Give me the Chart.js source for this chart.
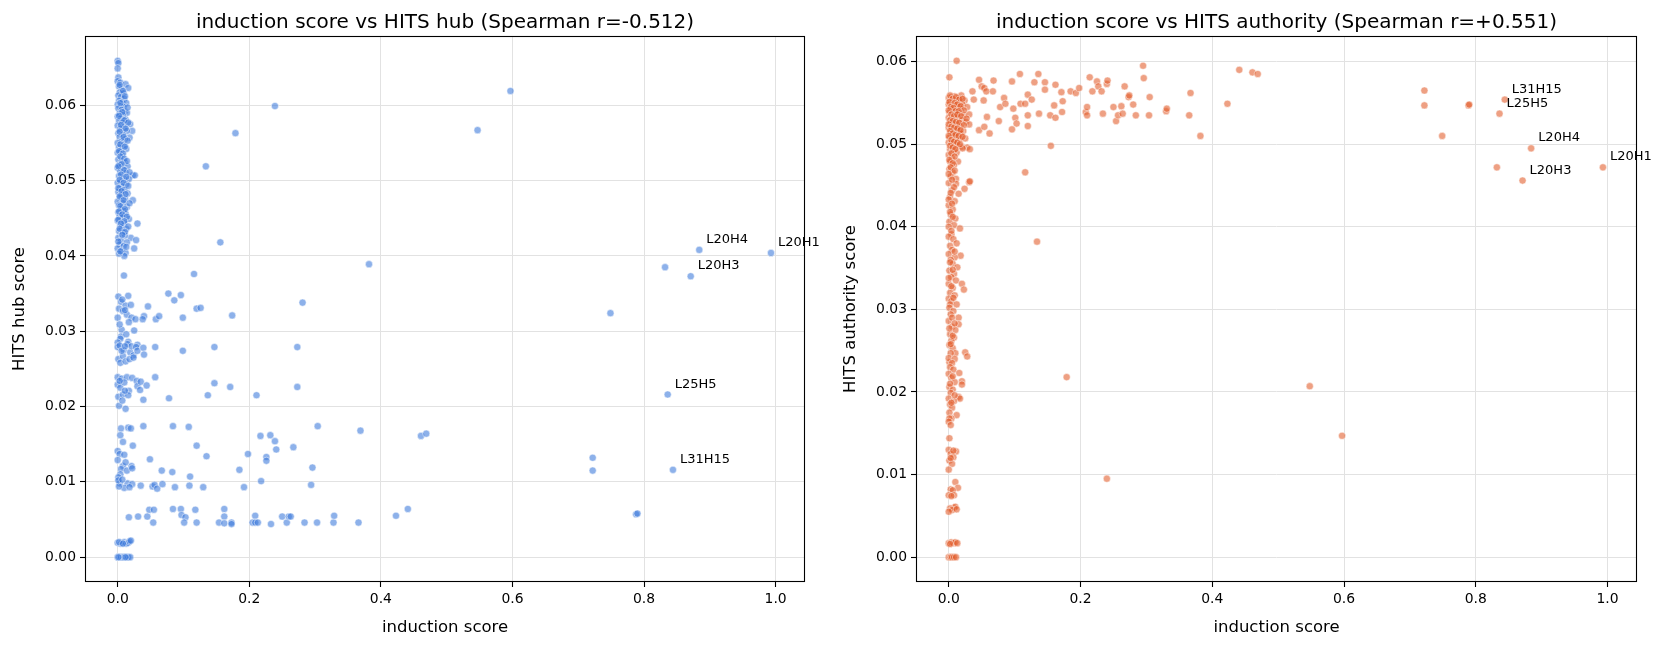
<!DOCTYPE html>
<html>
<head>
<meta charset="utf-8">
<script src="https://cdn.jsdelivr.net/npm/chart.js@4.4.1/dist/chart.umd.min.js"></script>
<style>
  html, body { margin: 0; padding: 0; background: #fff; }
  .panel { position: absolute; top: 0; height: 648px; }
  #left-wrap { left: 0; width: 831px; }
  #right-wrap { left: 831px; width: 832px; }
</style>
</head>
<body>
<div class="panel" id="left-wrap"><canvas id="hub-chart"></canvas></div>
<div class="panel" id="right-wrap"><canvas id="auth-chart"></canvas></div>
<script>
// labelled heads: induction score, hub score, authority score
const labelNames = ['L20H1', 'L20H4', 'L20H3', 'L25H5', 'L31H15'];
const labelInduction = [0.993, 0.884, 0.871, 0.836, 0.844];
const labelHub = [0.0404, 0.0408, 0.0373, 0.0216, 0.0116];
const labelAuth = [0.0472, 0.0495, 0.0456, 0.0537, 0.0554];

const xTicks = [0, 0.2, 0.4, 0.6, 0.8, 1.0];
const yTicks = [0, 0.01, 0.02, 0.03, 0.04, 0.05, 0.06];

// hub panel: heads with induction score near zero
const hubColumn = [
  [0.000,0.0659],[0.001,0.0656],[0.000,0.0649],[0.001,0.0637],[0.000,0.0632],[0.004,0.0630],[0.012,0.0628],[0.016,0.0623],
  [0.002,0.0625],[0.006,0.0621],[0.003,0.0617],[0.009,0.0616],[0.001,0.0613],[0.005,0.0611],[0.010,0.0609],[0.002,0.0606],
  [0.007,0.0604],[0.013,0.0603],[0.000,0.0601],[0.004,0.0599],[0.009,0.0598],[0.001,0.0596],[0.006,0.0594],[0.011,0.0592],
  [0.014,0.0590],[0.003,0.0589],[0.008,0.0587],[0.000,0.0585],[0.005,0.0583],[0.012,0.0581],
  [0.002,0.0579],[0.019,0.0575],[0.007,0.0577],[0.000,0.0573],[0.010,0.0571],[0.004,0.0569],[0.022,0.0566],[0.014,0.0566],
  [0.001,0.0563],[0.008,0.0561],[0.018,0.0557],[0.003,0.0558],[0.011,0.0555],[0.006,0.0552],[0.000,0.0550],[0.009,0.0547],
  [0.002,0.0544],[0.013,0.0542],[0.005,0.0540],[0.000,0.0537],[0.007,0.0533],
  [0.001,0.0528],[0.006,0.0526],[0.011,0.0524],[0.003,0.0521],[0.015,0.0519],[0.000,0.0517],[0.008,0.0515],[0.004,0.0512],
  [0.012,0.0510],[0.023,0.0507],[0.026,0.0507],[0.002,0.0506],[0.009,0.0503],[0.017,0.0502],[0.005,0.0499],[0.000,0.0497],
  [0.013,0.0495],[0.007,0.0492],[0.003,0.0490],[0.010,0.0488],[0.001,0.0485],[0.015,0.0483],[0.006,0.0481],[0.004,0.0478],
  [0.011,0.0476],[0.023,0.0474],[0.000,0.0472],[0.008,0.0470],[0.002,0.0467],[0.014,0.0465],[0.005,0.0463],[0.009,0.0460],
  [0.001,0.0458],[0.012,0.0456],[0.003,0.0453],[0.007,0.0451],[0.017,0.0449],[0.000,0.0447],[0.030,0.0443],[0.010,0.0444],
  [0.004,0.0441],[0.006,0.0438],[0.013,0.0436],[0.002,0.0433],[0.008,0.0431],[0.020,0.0424],[0.028,0.0421],[0.011,0.0427],
  [0.001,0.0424],[0.005,0.0420],[0.014,0.0418],[0.025,0.0410],[0.003,0.0415],[0.009,0.0413],[0.000,0.0410],[0.006,0.0407],
  [0.012,0.0404],[0.010,0.0400],[0.002,0.0403],[0.0095,0.0374],
  [0.003,0.0627],[0.008,0.0619],[0.011,0.0612],[0.004,0.0603],[0.015,0.0597],[0.007,0.0591],[0.002,0.0586],[0.010,0.0580],
  [0.016,0.0577],[0.005,0.0574],[0.012,0.0569],[0.003,0.0565],[0.009,0.0558],[0.015,0.0553],[0.004,0.0548],[0.011,0.0545],
  [0.002,0.0539],[0.008,0.0536],[0.004,0.0532],[0.010,0.0529],[0.014,0.0526],[0.006,0.0522],[0.001,0.0519],[0.010,0.0514],
  [0.018,0.0511],[0.005,0.0508],[0.013,0.0505],[0.003,0.0501],[0.009,0.0497],[0.016,0.0493],[0.001,0.0490],[0.006,0.0486],
  [0.012,0.0482],[0.003,0.0479],[0.009,0.0474],[0.018,0.0470],[0.004,0.0466],[0.011,0.0462],[0.002,0.0459],[0.007,0.0455],
  [0.014,0.0452],[0.001,0.0448],[0.010,0.0446],[0.005,0.0443],[0.016,0.0439],[0.003,0.0436],[0.011,0.0432],[0.007,0.0428],
  [0.001,0.0419],[0.013,0.0412],[0.004,0.0406],
  [0.001,0.0346],[0.016,0.0347],[0.005,0.0339],[0.012,0.0334],[0.020,0.0335],[0.002,0.0330],[0.008,0.0327],[0.014,0.0322],
  [0.000,0.0318],[0.021,0.0318],[0.027,0.0316],[0.017,0.0312],[0.025,0.0301],[0.006,0.0302],[0.005,0.0293],[0.004,0.0290],
  [0.007,0.0342],[0.011,0.0328],[0.003,0.0309],[0.013,0.0296],
  [0.000,0.0285],[0.000,0.0279],[0.003,0.0281],[0.016,0.0286],[0.009,0.0275],[0.019,0.0272],[0.024,0.0268],[0.015,0.0283],
  [0.021,0.0280],[0.030,0.0282],[0.028,0.0279],[0.030,0.0274],[0.001,0.0263],[0.008,0.0267],[0.004,0.0258],[0.012,0.0260],
  [0.006,0.0274],[0.011,0.0280],[0.018,0.0263],
  [0.000,0.0239],[0.006,0.0237],[0.014,0.0239],[0.022,0.0238],[0.029,0.0234],[0.030,0.0227],[0.034,0.0222],[0.000,0.0229],
  [0.004,0.0225],[0.010,0.0232],[0.017,0.0221],[0.001,0.0213],[0.008,0.0216],[0.016,0.0215],[0.002,0.0201],[0.012,0.0197],
  [0.003,0.0234],[0.011,0.0221],[0.007,0.0208],
  [0.005,0.0171],[0.016,0.0172],[0.020,0.0171],[0.008,0.0153],[0.023,0.0148],[0.000,0.0141],[0.003,0.0137],[0.010,0.0136],
  [0.000,0.0129],[0.008,0.0121],[0.005,0.0117],[0.004,0.0110],[0.001,0.0106],[0.014,0.0115],[0.021,0.0121],[0.022,0.0118],
  [0.003,0.0098],[0.015,0.0098],[0.022,0.0097],[0.010,0.0092],[0.002,0.0094],[0.001,0.0102],
  [0.004,0.0162],[0.012,0.0126],[0.007,0.0103],[0.018,0.0093],
  [0.000,0.0019],[0.004,0.0018],[0.006,0.0019],[0.010,0.0020],[0.013,0.0018],[0.016,0.0019],[0.018,0.0021],[0.020,0.0022],
  [0.002,0.0020],[0.008,0.0018],
  [0.000,0.0000],[0.003,0.0000],[0.005,0.0000],[0.008,0.0000],[0.010,0.0000],[0.014,0.0000],[0.016,0.0000],[0.019,0.0000],
  [0.012,0.0000],[0.001,0.0000]
];

// hub panel: the rest of the heads
const hubSpread = [
  [0.239,0.0599],[0.179,0.0563],[0.134,0.0519],[0.156,0.0418],[0.382,0.0389],[0.116,0.0376],[0.597,0.0619],[0.547,0.0567],
  [0.832,0.0385],[0.749,0.0324],[0.722,0.0132],[0.722,0.0115],
  [0.077,0.0350],[0.086,0.0341],[0.096,0.0348],[0.281,0.0338],[0.046,0.0333],[0.120,0.0330],[0.126,0.0331],[0.174,0.0321],
  [0.040,0.0320],[0.038,0.0316],[0.058,0.0316],[0.063,0.0320],[0.099,0.0318],
  [0.057,0.0279],[0.099,0.0274],[0.147,0.0279],[0.273,0.0279],[0.039,0.0278],[0.040,0.0269],[0.024,0.0265],
  [0.057,0.0239],[0.078,0.0211],[0.039,0.0209],[0.137,0.0215],[0.147,0.0231],[0.171,0.0226],[0.211,0.0215],[0.273,0.0226],
  [0.035,0.0233],[0.044,0.0228],
  [0.039,0.0174],[0.084,0.0174],[0.108,0.0173],[0.304,0.0174],[0.369,0.0168],[0.217,0.0161],[0.232,0.0162],[0.239,0.0154],
  [0.241,0.0143],[0.267,0.0146],[0.198,0.0137],[0.226,0.0133],[0.226,0.0128],[0.120,0.0148],[0.135,0.0134],[0.461,0.0161],
  [0.469,0.0164],
  [0.049,0.0130],[0.067,0.0115],[0.083,0.0113],[0.110,0.0107],[0.185,0.0116],[0.218,0.0101],[0.296,0.0119],[0.294,0.0096],
  [0.035,0.0095],[0.053,0.0094],[0.056,0.0096],[0.060,0.0091],[0.068,0.0097],[0.087,0.0093],[0.109,0.0095],[0.130,0.0093],
  [0.192,0.0093],
  [0.017,0.0053],[0.031,0.0054],[0.045,0.0054],[0.048,0.0063],[0.055,0.0063],[0.054,0.0046],[0.084,0.0064],[0.096,0.0064],
  [0.097,0.0056],[0.103,0.0053],[0.101,0.0046],[0.118,0.0063],[0.120,0.0046],[0.154,0.0046],[0.162,0.0064],[0.162,0.0054],
  [0.162,0.0045],[0.173,0.0046],[0.173,0.0044],[0.205,0.0046],[0.209,0.0055],[0.209,0.0046],[0.213,0.0046],[0.233,0.0044],
  [0.250,0.0054],[0.257,0.0046],[0.260,0.0054],[0.263,0.0054],[0.284,0.0046],[0.303,0.0046],[0.328,0.0046],[0.329,0.0055],
  [0.366,0.0046],[0.423,0.0055],[0.441,0.0064],[0.788,0.0057],[0.790,0.0058]
];

// authority panel: heads with induction score near zero
const authColumn = [
  [0.012,0.0601],[0.001,0.0581],
  [0.000,0.0556],[0.004,0.0557],[0.009,0.0558],[0.014,0.0556],[0.019,0.0559],[0.002,0.0553],[0.007,0.0552],[0.012,0.0554],
  [0.017,0.0551],[0.024,0.0553],[0.000,0.0548],[0.005,0.0547],[0.010,0.0549],[0.015,0.0546],[0.021,0.0548],[0.028,0.0545],
  [0.003,0.0543],[0.008,0.0542],[0.013,0.0541],[0.019,0.0543],[0.001,0.0538],[0.006,0.0537],[0.011,0.0536],[0.016,0.0538],
  [0.023,0.0535],[0.031,0.0536],[0.000,0.0532],[0.004,0.0531],[0.009,0.0530],[0.014,0.0533],[0.020,0.0529],[0.026,0.0527],
  [0.002,0.0526],[0.007,0.0525],[0.012,0.0524],[0.018,0.0522],[0.031,0.0524],[0.000,0.0520],[0.005,0.0519],[0.010,0.0518],
  [0.015,0.0517],[0.022,0.0516],[0.003,0.0514],[0.008,0.0512],[0.013,0.0511],[0.019,0.0513],[0.001,0.0508],[0.006,0.0507],
  [0.011,0.0505],[0.017,0.0506],[0.025,0.0507],[0.000,0.0502],[0.004,0.0501],[0.009,0.0500],[0.014,0.0498],[0.020,0.0497],
  [0.028,0.0496],[0.002,0.0494],[0.007,0.0492],[0.012,0.0490],[0.032,0.0494],[0.021,0.0495],
  [0.002,0.0559],[0.006,0.0555],[0.011,0.0557],[0.016,0.0554],[0.021,0.0555],[0.001,0.0551],[0.009,0.0550],[0.013,0.0548],
  [0.018,0.0546],[0.003,0.0545],[0.007,0.0544],[0.023,0.0541],[0.010,0.0540],[0.015,0.0540],[0.000,0.0541],[0.004,0.0536],
  [0.008,0.0534],[0.013,0.0536],[0.019,0.0534],[0.027,0.0531],[0.002,0.0529],[0.006,0.0528],[0.011,0.0527],[0.016,0.0526],
  [0.023,0.0523],[0.000,0.0524],[0.004,0.0521],[0.008,0.0520],[0.013,0.0519],[0.018,0.0517],[0.002,0.0516],[0.006,0.0513],
  [0.010,0.0511],[0.015,0.0510],[0.021,0.0509],[0.000,0.0510],[0.004,0.0505],[0.008,0.0503],[0.013,0.0502],[0.017,0.0500],
  [0.002,0.0498],[0.006,0.0496],[0.010,0.0494],
  [0.000,0.0487],[0.005,0.0483],[0.002,0.0479],[0.014,0.0479],[0.008,0.0475],[0.001,0.0470],[0.006,0.0466],[0.003,0.0461],
  [0.011,0.0458],[0.031,0.0454],[0.000,0.0453],[0.011,0.0452],[0.024,0.0446],[0.015,0.0440],[0.005,0.0444],[0.002,0.0436],
  [0.009,0.0431],[0.000,0.0426],[0.006,0.0421],[0.003,0.0415],[0.010,0.0410],[0.001,0.0406],[0.008,0.0402],[0.017,0.0398],
  [0.004,0.0489],[0.009,0.0485],[0.001,0.0481],[0.006,0.0477],[0.003,0.0472],[0.009,0.0468],[0.000,0.0464],[0.005,0.0457],
  [0.008,0.0448],[0.003,0.0441],[0.000,0.0433],[0.005,0.0428],[0.002,0.0418],[0.006,0.0412],[0.000,0.0400],[0.004,0.0391],
  [0.004,0.0395],[0.000,0.0388],[0.007,0.0385],[0.012,0.0380],[0.002,0.0377],[0.005,0.0372],[0.000,0.0367],[0.018,0.0365],
  [0.009,0.0363],[0.003,0.0360],[0.006,0.0355],[0.013,0.0351],[0.001,0.0347],[0.008,0.0343],[0.004,0.0339],[0.011,0.0335],
  [0.020,0.0331],[0.000,0.0331],[0.023,0.0324],[0.006,0.0326],[0.002,0.0320],[0.009,0.0317],[0.000,0.0313],[0.004,0.0310],
  [0.009,0.0370],[0.002,0.0357],[0.006,0.0348],[0.000,0.0338],[0.004,0.0328],[0.007,0.0314],[0.002,0.0306],
  [0.012,0.0306],[0.001,0.0302],[0.007,0.0298],[0.015,0.0290],[0.003,0.0294],[0.015,0.0282],[0.000,0.0286],[0.005,0.0279],
  [0.010,0.0275],[0.002,0.0270],[0.008,0.0266],[0.004,0.0262],[0.001,0.0257],[0.006,0.0253],[0.025,0.0248],[0.028,0.0243],
  [0.005,0.0290],[0.009,0.0283],[0.001,0.0277],[0.006,0.0268],[0.003,0.0258],[0.010,0.0247],[0.001,0.0236],
  [0.003,0.0247],[0.000,0.0241],[0.009,0.0240],[0.005,0.0235],[0.002,0.0230],[0.007,0.0227],[0.016,0.0223],[0.000,0.0222],
  [0.004,0.0217],[0.020,0.0213],[0.020,0.0209],[0.009,0.0212],[0.001,0.0206],[0.006,0.0203],[0.003,0.0199],[0.015,0.0194],
  [0.017,0.0192],[0.000,0.0192],[0.008,0.0189],[0.002,0.0185],[0.005,0.0181],[0.012,0.0172],[0.001,0.0175],[0.004,0.0168],
  [0.006,0.0219],[0.002,0.0210],[0.009,0.0196],[0.004,0.0187],[0.001,0.0168],
  [0.000,0.0164],[0.003,0.0160],[0.001,0.0144],[0.011,0.0128],[0.000,0.0130],[0.003,0.0125],[0.007,0.0121],[0.001,0.0117],
  [0.005,0.0113],[0.000,0.0106],[0.010,0.0091],[0.014,0.0084],[0.003,0.0082],[0.006,0.0081],[0.000,0.0075],[0.008,0.0075],
  [0.007,0.0129],[0.003,0.0120],[0.008,0.0060],[0.004,0.0074],
  [0.010,0.0061],[0.002,0.0059],[0.005,0.0057],[0.012,0.0058],[0.000,0.0055],
  [0.000,0.0017],[0.004,0.0018],[0.007,0.0017],[0.010,0.0018],[0.013,0.0017],[0.002,0.0016],
  [0.000,0.0000],[0.003,0.0000],[0.005,0.0000],[0.008,0.0000],[0.011,0.0000]
];

// authority panel: the rest of the heads
const authSpread = [
  [0.046,0.0578],[0.050,0.0570],[0.036,0.0564],[0.038,0.0554],[0.054,0.0568],[0.057,0.0564],[0.068,0.0577],[0.067,0.0564],
  [0.053,0.0553],[0.058,0.0533],[0.046,0.0517],[0.054,0.0521],[0.062,0.0513],[0.076,0.0528],[0.078,0.0545],[0.084,0.0556],
  [0.086,0.0549],[0.096,0.0576],[0.096,0.0518],[0.098,0.0543],[0.101,0.0532],[0.103,0.0525],[0.108,0.0585],[0.109,0.0549],
  [0.116,0.0549],[0.120,0.0560],[0.120,0.0535],[0.120,0.0522],[0.126,0.0554],[0.116,0.0466],[0.130,0.0575],[0.136,0.0585],
  [0.146,0.0575],[0.146,0.0566],[0.137,0.0537],[0.134,0.0382],[0.155,0.0498],[0.154,0.0535],[0.160,0.0547],[0.162,0.0532],
  [0.162,0.0572],[0.171,0.0563],[0.173,0.0552],[0.172,0.0539],[0.185,0.0564],[0.193,0.0562],[0.198,0.0568],[0.208,0.0539],
  [0.210,0.0545],[0.210,0.0535],[0.214,0.0581],[0.218,0.0564],[0.225,0.0576],[0.227,0.0570],[0.232,0.0564],[0.234,0.0537],
  [0.240,0.0573],[0.241,0.0577],[0.250,0.0545],[0.254,0.0528],[0.257,0.0535],[0.262,0.0546],[0.264,0.0537],[0.267,0.0570],
  [0.273,0.0557],[0.274,0.0559],[0.280,0.0548],[0.284,0.0535],[0.295,0.0595],[0.296,0.0580],[0.305,0.0557],[0.304,0.0535],
  [0.330,0.0540],[0.331,0.0543],[0.365,0.0535],[0.367,0.0562],[0.382,0.0510],[0.423,0.0549],[0.441,0.0590],[0.461,0.0587],
  [0.469,0.0585],[0.722,0.0565],[0.722,0.0547],[0.789,0.0547],[0.790,0.0548],[0.749,0.0510],[0.832,0.0472],
  [0.548,0.0207],[0.597,0.0147],[0.179,0.0218],[0.240,0.0095],[0.032,0.0455]
];

const font = '"DejaVu Sans", "Liberation Sans", sans-serif';

function toPoints(list) {
  return list.map(p => ({x: p[0], y: p[1]}));
}

function labelled(ys) {
  return labelInduction.map((x, i) => ({x: x, y: ys[i], name: labelNames[i]}));
}

const decor = {
  id: 'decor',
  afterDraw(chart, args, opts) {
    const {ctx, chartArea: a} = chart;
    const sx = chart.scales.x, sy = chart.scales.y;
    ctx.save();
    // frame
    ctx.strokeStyle = '#000';
    ctx.lineWidth = 1.1;
    ctx.strokeRect(a.left + 0.5, a.top + 0.5, a.right - a.left - 1, a.bottom - a.top - 1);
    ctx.fillStyle = '#000';
    // title
    ctx.font = '20px ' + font;
    ctx.textAlign = 'center';
    ctx.textBaseline = 'alphabetic';
    ctx.fillText(opts.title, (a.left + a.right) / 2, a.top - 8.5);
    // axis labels
    ctx.font = '16.5px ' + font;
    ctx.textBaseline = 'middle';
    ctx.fillText('induction score', (a.left + a.right) / 2, a.bottom + 46);
    ctx.save();
    ctx.translate(a.left - 65, (a.top + a.bottom) / 2);
    ctx.rotate(-Math.PI / 2);
    ctx.fillText(opts.yLabel, 0, 0);
    ctx.restore();
    // head names
    ctx.font = '13px ' + font;
    ctx.textAlign = 'left';
    ctx.textBaseline = 'alphabetic';
    for (const p of opts.names) {
      ctx.fillText(p.name, sx.getPixelForValue(p.x) + 7, sy.getPixelForValue(p.y) - 7);
    }
    ctx.restore();
  }
};

function makePanel(canvasId, points, names, color, yMax, title, yLabel) {
  return new Chart(document.getElementById(canvasId), {
    type: 'scatter',
    data: {
      datasets: [{
        data: points,
        backgroundColor: color,
        borderColor: 'rgba(255,255,255,0.7)',
        borderWidth: 0.7,
        pointRadius: 3.6,
        pointHoverRadius: 3.6
      }]
    },
    options: {
      responsive: true,
      maintainAspectRatio: false,
      animation: false,
      events: [],
      layout: {padding: {left: 0, right: 26, top: 36, bottom: 0}},
      plugins: {
        legend: {display: false},
        tooltip: {enabled: false},
        decor: {title: title, yLabel: yLabel, names: names}
      },
      scales: {
        x: {
          type: 'linear',
          min: -0.0497,
          max: 1.0447,
          afterFit: s => { s.height = 66; },
          afterBuildTicks: s => { s.ticks = xTicks.map(v => ({value: v})); },
          grid: {color: '#e2e2e2', lineWidth: 1, tickColor: '#000', tickLength: 5, tickWidth: 1.1},
          border: {display: false},
          ticks: {
            color: '#000',
            padding: 4,
            maxRotation: 0,
            font: {family: font, size: 13.9},
            callback: v => v.toFixed(1)
          }
        },
        y: {
          type: 'linear',
          min: -yMax / 21,
          max: yMax,
          afterFit: s => { s.width = 85; },
          afterBuildTicks: s => { s.ticks = yTicks.map(v => ({value: v})); },
          grid: {color: '#e2e2e2', lineWidth: 1, tickColor: '#000', tickLength: 5, tickWidth: 1.1},
          border: {display: false},
          ticks: {
            color: '#000',
            padding: 4,
            font: {family: font, size: 13.9},
            callback: v => v.toFixed(2)
          }
        }
      }
    },
    plugins: [decor]
  });
}

const hubPoints = toPoints(hubColumn.concat(hubSpread)).concat(labelled(labelHub));
const authPoints = toPoints(authColumn.concat(authSpread)).concat(labelled(labelAuth));

makePanel('hub-chart', hubPoints, labelled(labelHub), 'rgba(58,120,218,0.58)', 0.0692,
  'induction score vs HITS hub (Spearman r=-0.512)', 'HITS hub score');
makePanel('auth-chart', authPoints, labelled(labelAuth), 'rgba(226,92,42,0.58)', 0.0631,
  'induction score vs HITS authority (Spearman r=+0.551)', 'HITS authority score');
</script>
</body>
</html>
